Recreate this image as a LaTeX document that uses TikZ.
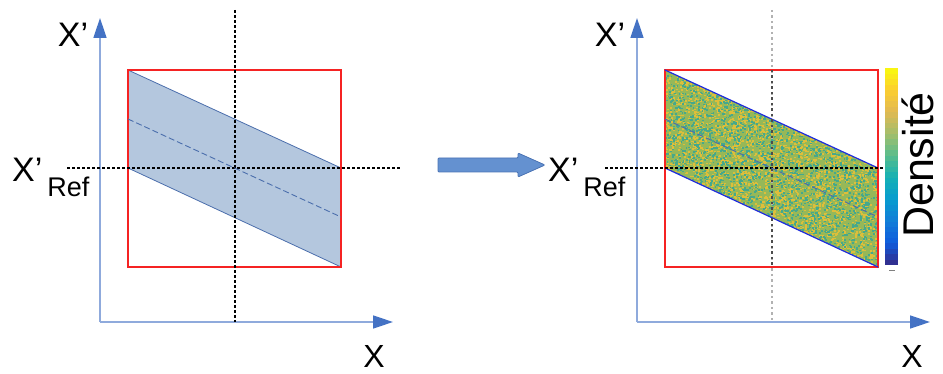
\documentclass[tikz,border=0pt]{standalone}
\usepackage{fontspec}
\setmainfont{Liberation Sans}
\usetikzlibrary{calc,arrows.meta}

\definecolor{axisblue}{RGB}{143,170,220}
\definecolor{tipblue}{RGB}{68,114,196}
\definecolor{bandfill}{RGB}{180,199,222}
\definecolor{bandedge}{RGB}{75,110,172}
\definecolor{boxred}{RGB}{245,35,35}
\definecolor{arrowfill}{RGB}{100,145,208}
\definecolor{arrowedge}{RGB}{75,115,180}
\definecolor{noisebase}{RGB}{150,184,88}
\definecolor{noiseyel}{RGB}{222,190,58}
\definecolor{noiseteal}{RGB}{70,168,140}
% parula, du bas vers le haut
\definecolor{pa0}{RGB}{53,42,135}
\definecolor{pa1}{RGB}{15,92,221}
\definecolor{pa2}{RGB}{18,125,216}
\definecolor{pa3}{RGB}{7,156,207}
\definecolor{pa4}{RGB}{21,177,180}
\definecolor{pa5}{RGB}{89,189,140}
\definecolor{pa6}{RGB}{165,190,107}
\definecolor{pa7}{RGB}{225,185,82}
\definecolor{pa8}{RGB}{252,206,46}
\definecolor{pa9}{RGB}{249,251,14}

\begin{document}
\begin{tikzpicture}[x=1pt, y=-1pt,
  axe/.style={axisblue, line width=1.5pt, -{Triangle[length=20pt,width=13pt,color=tipblue]}},
  guide/.style={black, line width=1.1pt, dash pattern=on 3pt off 2pt},
  cadre/.style={boxred, line width=1.2pt},
  lab/.style={inner sep=0pt, text depth=0pt, font=\fontsize{34}{34}\selectfont}]
  \useasboundingbox (0,0) rectangle (943,374);

  % ---- gauche
  \coordinate (LO) at (100,322);
  \coordinate (LY) at (100,18);
  \coordinate (LX) at (393,322);
  \coordinate (A) at (128,70);
  \coordinate (B) at (341,168);
  \coordinate (C) at (341,267);
  \coordinate (D) at (128,168);
  \draw[axe] (LO)--(LY);
  \draw[axe] (LO)--(LX);
  \fill[bandfill] (A)--(B)--(C)--(D)--cycle;
  \draw[bandedge, line width=0.8pt] (A)--(B) (C)--(D);
  \draw[cadre] (128,70) rectangle (341,267);
  \draw[guide] (235,10)--(235,322);
  \draw[guide] (67,168)--(400,168);
  \draw[bandedge, line width=0.9pt, dash pattern=on 6pt off 3pt] (128,119)--(341,217);
  \node[lab, anchor=base] (lxp) at (73,47) {X'};
  \node[lab, anchor=base west] (lxref) at (12,182)
    {X'\hspace{5pt}\raisebox{-15pt}{\fontsize{27}{27}\selectfont Ref}};
  \node[lab, anchor=base, font=\fontsize{32}{32}\selectfont] (lx) at (374,367) {X};

  % ---- fleche
  \draw[arrowedge, fill=arrowfill, line width=0.8pt, rounded corners=1pt]
    (438,158)--(518,158)--(518,153)--(545,165)--(518,177)--(518,172)--(438,172)--cycle;

  % ---- droite
  \coordinate (RO) at (637,322);
  \coordinate (RY) at (637,18);
  \coordinate (RX) at (930,322);
  \coordinate (A') at (665,70);
  \coordinate (B') at (878,168);
  \coordinate (C') at (878,267);
  \coordinate (D') at (665,168);
  \draw[axe] (RO)--(RY);
  \draw[axe] (RO)--(RX);
  \begin{scope}
    \clip (A')--(B')--(C')--(D')--cycle;
    \fill[noisebase] (665,70) rectangle (878,267);
    \pgfmathsetseed{7}
    \foreach \i in {1,...,2200}{
      \pgfmathsetmacro\t{rnd}
      \pgfmathsetmacro\px{665+213*\t}
      \pgfmathsetmacro\py{70+98*\t+99*rnd}
      \fill[noiseyel] (\px,\py) rectangle ++(2,1.6);
    }
    \foreach \i in {1,...,1800}{
      \pgfmathsetmacro\t{rnd}
      \pgfmathsetmacro\px{665+213*\t}
      \pgfmathsetmacro\py{70+98*\t+99*rnd}
      \fill[noiseteal] (\px,\py) rectangle ++(1.8,1.6);
    }
  \end{scope}
  \draw[cadre] (665,70) rectangle (878,267);
  \draw[blue!60!bandedge, line width=1.2pt] (A')--(B') (C')--(D');
  \draw[gray!60, line width=1.6pt, dash pattern=on 2.5pt off 3pt] (772,10)--(772,322);
  \draw[black!70, line width=1.6pt, dash pattern=on 2.5pt off 3pt] (772,70)--(772,267);
  \draw[guide] (605,168)--(883,168);
  \draw[bandedge, line width=1pt, dash pattern=on 6pt off 3pt] (665,119)--(878,217);
  \node[lab, anchor=base] (rxp) at (610,47) {X'};
  \node[lab, anchor=base west] (rxref) at (548,182)
    {X'\hspace{5pt}\raisebox{-15pt}{\fontsize{27}{27}\selectfont Ref}};
  \node[lab, anchor=base, font=\fontsize{32}{32}\selectfont] (rx) at (912,367) {X};

  % barre de couleur
  \foreach \lo/\hi [count=\k from 0] in {pa0/pa1,pa1/pa2,pa2/pa3,pa3/pa4,pa4/pa5,pa5/pa6,pa6/pa7,pa7/pa8,pa8/pa9}{
    \foreach \s in {0,...,3}{
      \pgfmathtruncatemacro\pct{25*\s+12}
      \colorlet{stripe}{\hi!\pct!\lo}
      \fill[stripe] (885,{265-(\k*4+\s)*197/36+0.3}) rectangle (898,{265-(\k*4+\s+1)*197/36});
    }
  }
  \draw[gray, line width=0.8pt] (889,270)--(895,270);
  \node[inner sep=0pt, text depth=0pt, rotate=90, anchor=base, font=\fontsize{43}{43}\selectfont] (dens) at (933,165) {Densité};
\end{tikzpicture}
\end{document}
